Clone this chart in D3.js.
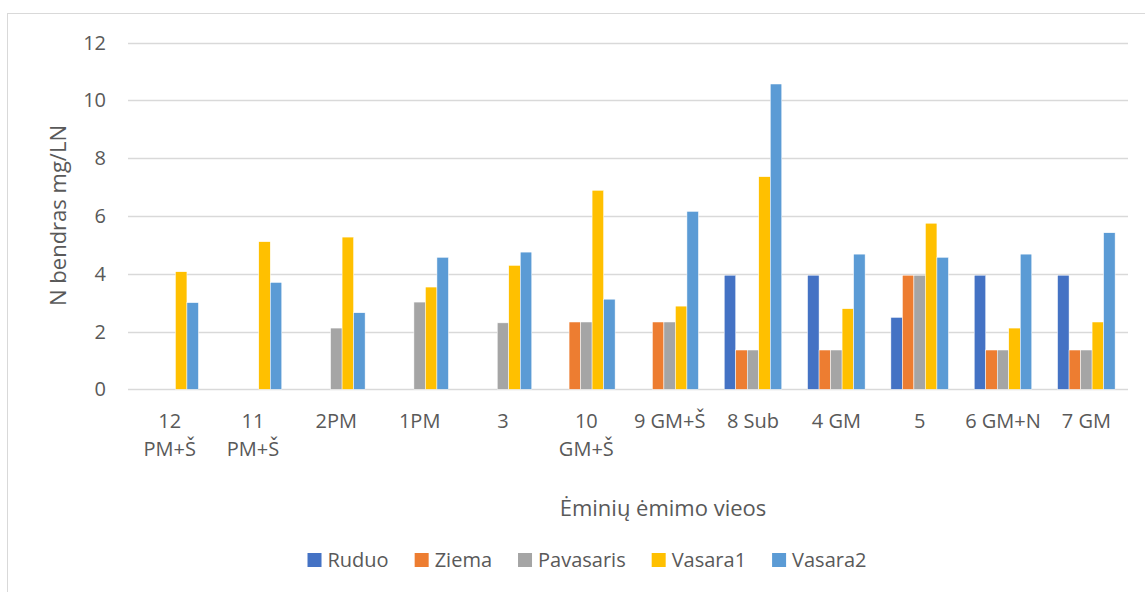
<!DOCTYPE html>
<html>
<head>
<meta charset="utf-8">
<script src="https://cdn.jsdelivr.net/npm/d3@7"></script>
<style>
  html, body { margin: 0; padding: 0; background: #fff; }
  svg text { font-family: "Open Sans", "Noto Sans", sans-serif; fill: #595959; }
</style>
</head>
<body>
<svg id="chart" width="1145" height="592"></svg>
<script>
// sampling places (categories) and the way Excel wrapped their labels
const categories = ["12 PM+Š", "11 PM+Š", "2PM", "1PM", "3", "10 GM+Š", "9 GM+Š", "8 Sub", "4 GM", "5", "6 GM+N", "7 GM"];
const tickLines = [["12", "PM+Š"], ["11", "PM+Š"], ["2PM"], ["1PM"], ["3"], ["10", "GM+Š"], ["9 GM+Š"], ["8 Sub"], ["4 GM"], ["5"], ["6 GM+N"], ["7 GM"]];

const seriesNames = ["Ruduo", "Ziema", "Pavasaris", "Vasara1", "Vasara2"];
const seriesColors = ["#4472c4", "#ed7d31", "#a5a5a5", "#ffc000", "#5b9bd5"];

// null = no measurement
const ruduo     = [null, null, null, null, null, null, null, 3.95, 3.95, 2.49, 3.95, 3.95];
const ziema     = [null, null, null, null, null, 2.33, 2.33, 1.36, 1.36, 3.95, 1.36, 1.36];
const pavasaris = [null, null, 2.12, 3.02, 2.30, 2.33, 2.33, 1.36, 1.36, 3.95, 1.36, 1.36];
const vasara1   = [4.07, 5.11, 5.27, 3.54, 4.29, 6.89, 2.88, 7.36, 2.79, 5.75, 2.12, 2.33];
const vasara2   = [3.00, 3.70, 2.65, 4.57, 4.75, 3.12, 6.16, 10.57, 4.68, 4.57, 4.68, 5.42];

const yTicks = [0, 2, 4, 6, 8, 10, 12];
const yTitle = "N bendras mg/LN";
const xTitle = "Ėminių ėmimo vieos";

const seriesValues = [ruduo, ziema, pavasaris, vasara1, vasara2];

const svg = d3.select("#chart");
const margin = { top: 42.7, right: 17, bottom: 202.7, left: 128 };
const width = 1145, height = 592;

// chart area border
svg.append("rect")
    .attr("x", 7.5).attr("y", 13.5)
    .attr("width", 1160).attr("height", 600)
    .attr("fill", "none").attr("stroke", "#d9d9d9").attr("stroke-width", 1);

const x0 = d3.scaleBand().domain(categories).range([margin.left, width - margin.right]).padding(0);
const x1 = d3.scaleBand().domain(seriesNames).range([0, x0.bandwidth()]).paddingInner(0).paddingOuter(1.12);
const y = d3.scaleLinear().domain([0, 12]).range([height - margin.bottom, margin.top]);
const color = d3.scaleOrdinal().domain(seriesNames).range(seriesColors);

// gridlines
svg.append("g")
    .selectAll("line")
    .data(yTicks)
    .join("line")
    .attr("x1", margin.left).attr("x2", width - margin.right)
    .attr("y1", d => Math.round(y(d)) + 0.5).attr("y2", d => Math.round(y(d)) + 0.5)
    .attr("stroke", "#d9d9d9").attr("stroke-width", 1.3);

// y tick labels
svg.append("g")
    .selectAll("text")
    .data(yTicks)
    .join("text")
    .attr("x", 106).attr("y", d => y(d))
    .attr("dy", "0.35em")
    .attr("text-anchor", "end")
    .style("font-size", "20px")
    .text(d => d);

// bars
const rows = categories.map((c, i) => ({ cat: c, vals: seriesNames.map((s, j) => ({ s, v: seriesValues[j][i] })) }));
svg.append("g")
    .selectAll("g")
    .data(rows)
    .join("g")
    .attr("transform", d => `translate(${x0(d.cat)},0)`)
    .selectAll("rect")
    .data(d => d.vals.filter(v => v.v != null))
    .join("rect")
    .attr("x", d => x1(d.s))
    .attr("width", x1.bandwidth())
    .attr("y", d => y(d.v))
    .attr("height", d => y(0) - y(d.v))
    .attr("fill", d => color(d.s))
    .attr("stroke", "#ffffff").attr("stroke-width", 0.5);

// x tick labels
const xl = svg.append("g")
    .selectAll("text")
    .data(categories)
    .join("text")
    .attr("text-anchor", "middle")
    .style("font-size", "20px")
    .attr("transform", d => `translate(${x0(d) + x0.bandwidth() / 2},${y(0) + 31.5})`);
xl.selectAll("tspan")
    .data((d, i) => tickLines[i])
    .join("tspan")
    .attr("x", 0)
    .attr("dy", (d, i) => i === 0 ? "0.35em" : "28px")
    .text(d => d);

// axis titles
svg.append("text")
    .attr("transform", "translate(58,215.5) rotate(-90)")
    .attr("text-anchor", "middle").attr("dy", "0.35em")
    .style("font-size", "22px")
    .text(yTitle);

svg.append("text")
    .attr("x", 663).attr("y", 508)
    .attr("text-anchor", "middle").attr("dy", "0.35em")
    .style("font-size", "22px")
    .text(xTitle);

// legend
const legend = svg.append("g");
let lx = 0;
seriesNames.forEach(s => {
    const item = legend.append("g").attr("transform", `translate(${lx},0)`);
    item.append("rect").attr("x", 0).attr("y", -7).attr("width", 14).attr("height", 14).attr("fill", color(s));
    const t = item.append("text").attr("x", 20).attr("dy", "0.35em").style("font-size", "20px").text(s);
    lx += 20 + t.node().getComputedTextLength() + 26;
});
const legendWidth = lx - 26;
legend.attr("transform", `translate(${587 - legendWidth / 2},560)`);
</script>
</body>
</html>
